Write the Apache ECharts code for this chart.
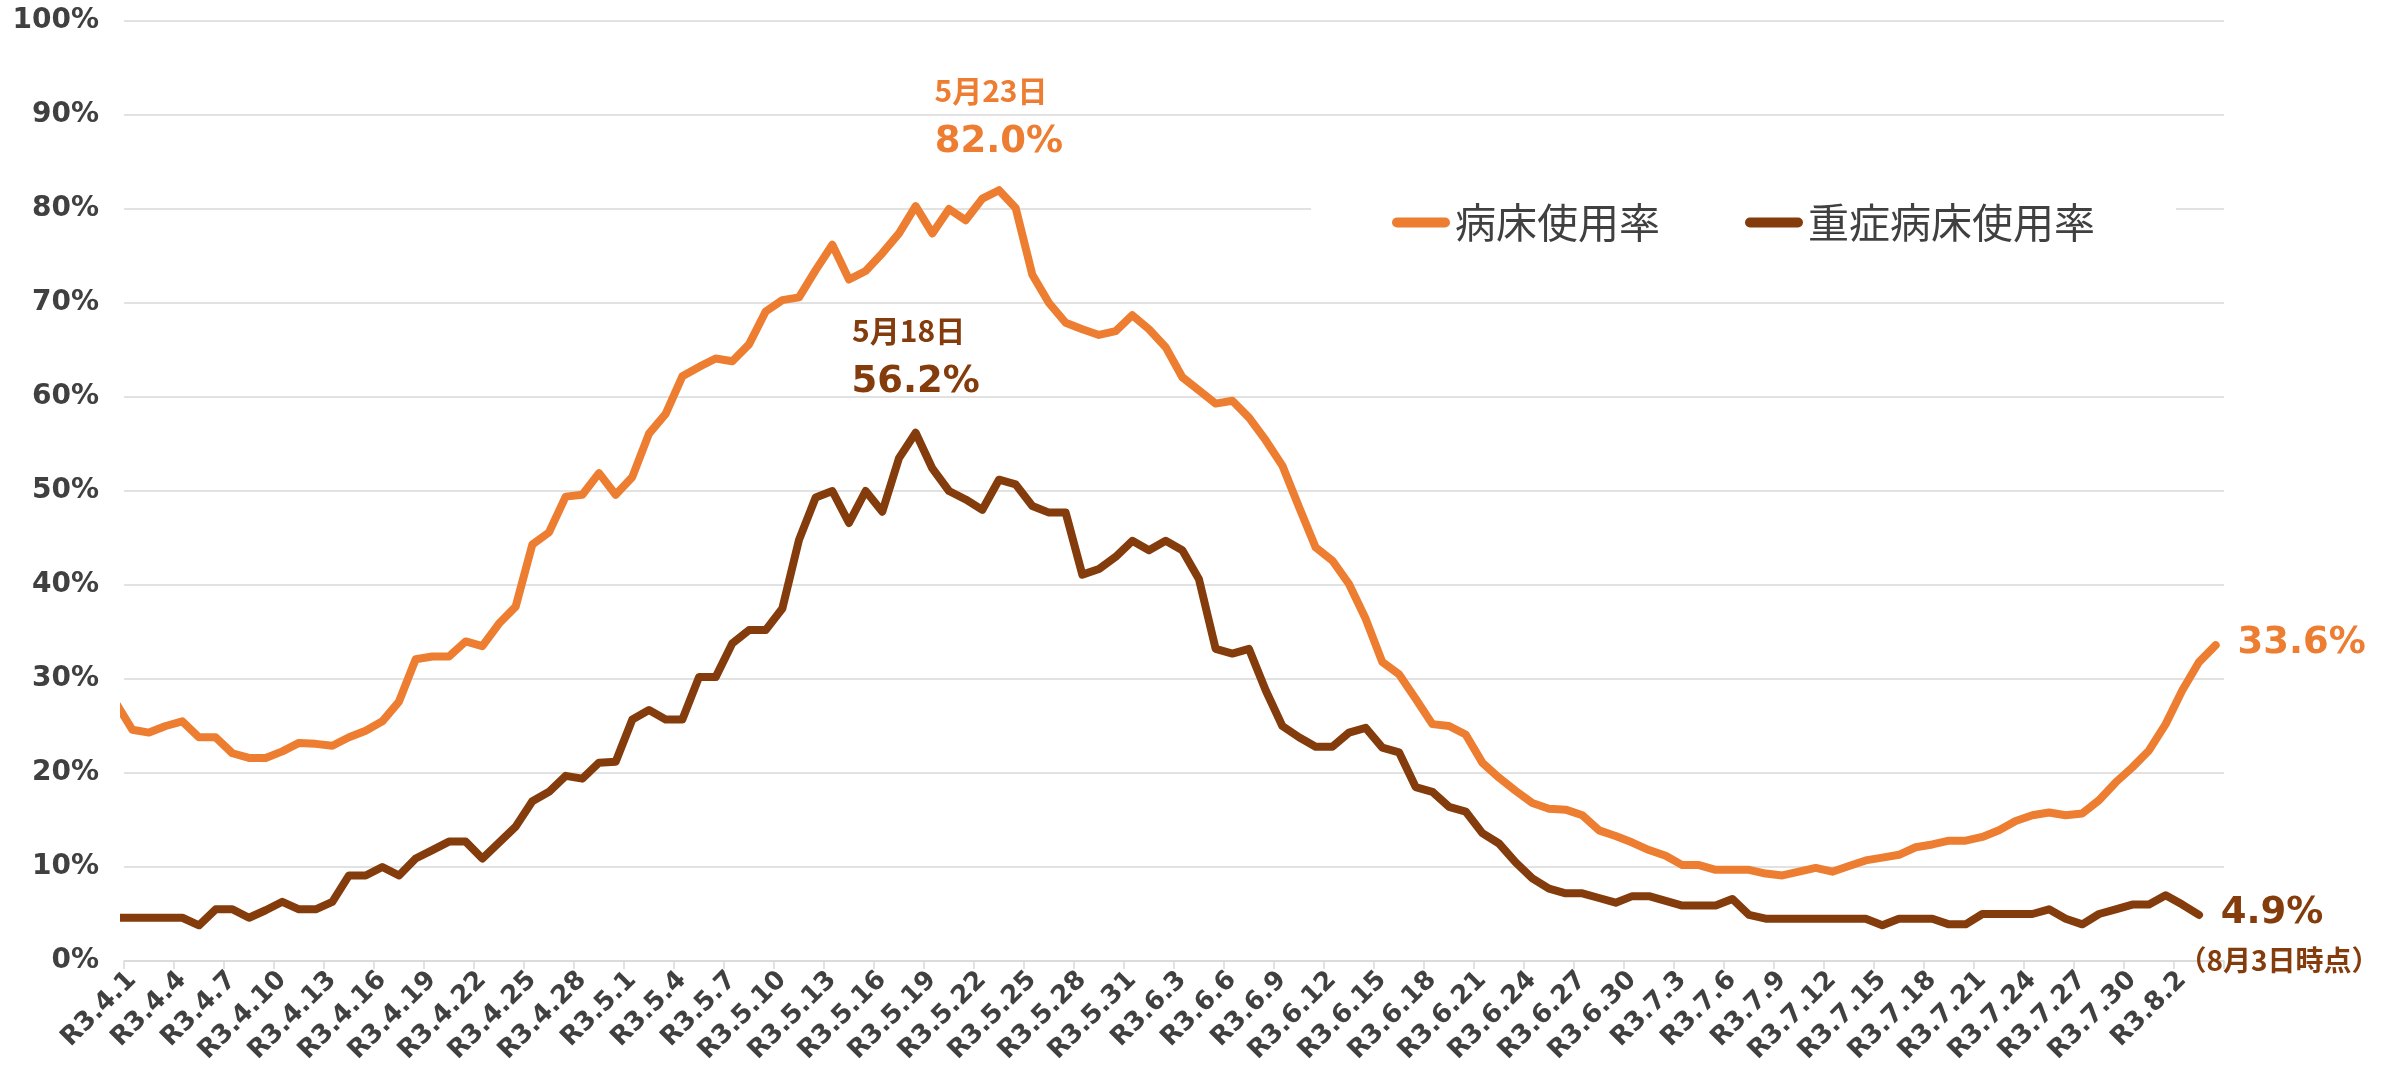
<!DOCTYPE html>
<html>
<head>
<meta charset="utf-8">
<script src="https://cdn.jsdelivr.net/npm/echarts@6/dist/echarts.min.js"></script>
<style>
html,body{margin:0;padding:0;background:#fff;}
#chart{width:2387px;height:1078px;}
</style>
</head>
<body>
<div id="chart"></div>
<script>
// Dates (index 0 = R3.3.31, lies just left of the plot and is clipped)
const categories = [
  'R3.3.31',
  'R3.4.1','R3.4.2','R3.4.3','R3.4.4','R3.4.5','R3.4.6','R3.4.7','R3.4.8','R3.4.9','R3.4.10',
  'R3.4.11','R3.4.12','R3.4.13','R3.4.14','R3.4.15','R3.4.16','R3.4.17','R3.4.18','R3.4.19','R3.4.20',
  'R3.4.21','R3.4.22','R3.4.23','R3.4.24','R3.4.25','R3.4.26','R3.4.27','R3.4.28','R3.4.29','R3.4.30',
  'R3.5.1','R3.5.2','R3.5.3','R3.5.4','R3.5.5','R3.5.6','R3.5.7','R3.5.8','R3.5.9','R3.5.10',
  'R3.5.11','R3.5.12','R3.5.13','R3.5.14','R3.5.15','R3.5.16','R3.5.17','R3.5.18','R3.5.19','R3.5.20',
  'R3.5.21','R3.5.22','R3.5.23','R3.5.24','R3.5.25','R3.5.26','R3.5.27','R3.5.28','R3.5.29','R3.5.30','R3.5.31',
  'R3.6.1','R3.6.2','R3.6.3','R3.6.4','R3.6.5','R3.6.6','R3.6.7','R3.6.8','R3.6.9','R3.6.10',
  'R3.6.11','R3.6.12','R3.6.13','R3.6.14','R3.6.15','R3.6.16','R3.6.17','R3.6.18','R3.6.19','R3.6.20',
  'R3.6.21','R3.6.22','R3.6.23','R3.6.24','R3.6.25','R3.6.26','R3.6.27','R3.6.28','R3.6.29','R3.6.30',
  'R3.7.1','R3.7.2','R3.7.3','R3.7.4','R3.7.5','R3.7.6','R3.7.7','R3.7.8','R3.7.9','R3.7.10',
  'R3.7.11','R3.7.12','R3.7.13','R3.7.14','R3.7.15','R3.7.16','R3.7.17','R3.7.18','R3.7.19','R3.7.20',
  'R3.7.21','R3.7.22','R3.7.23','R3.7.24','R3.7.25','R3.7.26','R3.7.27','R3.7.28','R3.7.29','R3.7.30','R3.7.31',
  'R3.8.1','R3.8.2','R3.8.3','R3.8.4'
];

// 病床使用率 (%)
const bedRate = [
  27.5,
  24.6,24.3,25.0,25.5,23.8,23.8,22.1,21.6,21.6,22.3,
  23.2,23.1,22.9,23.8,24.5,25.5,27.6,32.1,32.4,32.4,
  34.0,33.5,35.9,37.7,44.3,45.6,49.4,49.6,51.9,49.6,
  51.5,56.1,58.2,62.2,63.2,64.1,63.8,65.6,69.1,70.3,
  70.6,73.5,76.2,72.5,73.4,75.3,77.4,80.3,77.4,80.0,
  78.8,81.1,82.0,80.1,73.0,70.0,67.9,67.2,66.6,67.0,68.7,
  67.2,65.3,62.1,60.7,59.3,59.6,57.8,55.4,52.7,48.3,
  44.0,42.6,40.1,36.4,31.8,30.5,27.9,25.2,25.0,24.1,
  21.1,19.5,18.1,16.8,16.2,16.1,15.5,13.9,13.3,12.6,
  11.8,11.2,10.2,10.2,9.7,9.7,9.7,9.3,9.1,9.5,
  9.9,9.5,10.1,10.7,11.0,11.3,12.1,12.4,12.8,12.8,
  13.2,13.9,14.9,15.5,15.8,15.5,15.7,17.1,19.0,20.6,22.4,
  25.2,28.8,31.8,33.6
];

// 重症病床使用率 (%)
const severeRate = [
  4.6,
  4.6,4.6,4.6,4.6,3.8,5.5,5.5,4.6,5.4,6.3,
  5.5,5.5,6.3,9.1,9.1,10.0,9.1,10.9,11.8,12.7,
  12.7,10.9,12.6,14.3,17.0,18.0,19.7,19.4,21.1,21.2,
  25.7,26.7,25.7,25.7,30.2,30.2,33.8,35.2,35.2,37.5,
  44.8,49.3,50.0,46.6,50.0,47.8,53.5,56.2,52.4,50.0,
  49.1,48.0,51.2,50.7,48.4,47.7,47.7,41.1,41.7,43.0,44.7,
  43.7,44.7,43.7,40.6,33.2,32.7,33.2,28.8,25.0,23.8,
  22.8,22.8,24.3,24.8,22.7,22.2,18.5,18.0,16.4,15.9,
  13.6,12.5,10.5,8.8,7.7,7.2,7.2,6.7,6.2,6.9,
  6.9,6.4,5.9,5.9,5.9,6.6,4.9,4.5,4.5,4.5,
  4.5,4.5,4.5,4.5,3.8,4.5,4.5,4.5,3.9,
  3.9,5.0,5.0,5.0,5.0,5.5,4.5,3.9,5.0,5.5,6.0,
  6.0,7.0,6.0,4.9
];

const seriesNames = ['病床使用率', '重症病床使用率'];
const peakNotes = { bed: '5月23日', severe: '5月18日' };
const endNote = '（8月3日時点）';

const ORANGE = '#ED7D31';
const BROWN = '#843C0C';
const GRAY_TEXT = '#404040';
const GRID = '#d9d9d9';

function peakIndex(arr) {
  let m = 0;
  arr.forEach((v, i) => { if (v > arr[m]) m = i; });
  return m;
}
const bp = peakIndex(bedRate);
const sp = peakIndex(severeRate);
const bl = bedRate.length - 1;
const sl = severeRate.length - 1;

const numFont = 'DejaVu Sans';
const cjkFont = 'Noto Sans CJK JP';

function note(idx, arr, text, color, offset, size, font, weight) {
  return {
    coord: [categories[idx], arr[idx]],
    symbolSize: 0,
    label: {
      show: true, position: 'inside', formatter: text, offset: offset,
      color: color, fontSize: size, fontFamily: font, fontWeight: weight
    }
  };
}

const tickFilter = (i) => (i - 1) % 3 === 0;

const chart = echarts.init(document.getElementById('chart'), null, { renderer: 'canvas' });
chart.setOption({
  animation: false,
  backgroundColor: '#ffffff',
  grid: { left: 124, right: 163, top: 21, bottom: 117, containLabel: false },
  legend: {
    data: seriesNames,
    left: 1311, top: 185,
    padding: [17, 81],
    itemGap: 85,
    itemWidth: 58, itemHeight: 10,
    icon: 'path://M5,0 H53 A5,5 0 0 1 53,10 H5 A5,5 0 0 1 5,0 Z',
    backgroundColor: '#ffffff',
    textStyle: { fontSize: 41, color: GRAY_TEXT, fontFamily: cjkFont }
  },
  xAxis: {
    type: 'category',
    data: categories,
    min: 1,
    boundaryGap: true,
    axisLine: { show: true, lineStyle: { color: GRID, width: 1.5 } },
    axisTick: { show: true, interval: tickFilter, length: 8, lineStyle: { color: GRID, width: 1.5 } },
    axisLabel: {
      interval: tickFilter, rotate: 45, margin: 15,
      fontSize: 26, fontWeight: 'bold', fontFamily: numFont, color: GRAY_TEXT
    },
    splitLine: { show: false }
  },
  yAxis: {
    type: 'value', min: 0, max: 100, interval: 10,
    axisLine: { show: false }, axisTick: { show: false },
    axisLabel: { formatter: '{value}%', margin: 25, fontSize: 28, fontWeight: 'bold', fontFamily: numFont, color: GRAY_TEXT },
    splitLine: { show: true, lineStyle: { color: GRID, width: 1.5 } }
  },
  series: [
    {
      name: seriesNames[0], type: 'line', data: bedRate, showSymbol: false, symbol: 'none',
      clip: true, smooth: false,
      itemStyle: { color: ORANGE },
      lineStyle: { color: ORANGE, width: 8, join: 'round', cap: 'round' },
      z: 3,
      markPoint: {
        symbol: 'circle', silent: true, itemStyle: { color: 'rgba(0,0,0,0)' },
        data: [
          note(bp, bedRate, peakNotes.bed, ORANGE, [-8, -100], 30, cjkFont, 'bold'),
          note(bp, bedRate, bedRate[bp].toFixed(1) + '%', ORANGE, [0, -48], 37, numFont, 'bold'),
          note(bl, bedRate, bedRate[bl].toFixed(1) + '%', ORANGE, [86, -2], 37, numFont, 'bold')
        ]
      }
    },
    {
      name: seriesNames[1], type: 'line', data: severeRate, showSymbol: false, symbol: 'none',
      clip: true, smooth: false,
      itemStyle: { color: BROWN },
      lineStyle: { color: BROWN, width: 8, join: 'round', cap: 'round' },
      z: 4,
      markPoint: {
        symbol: 'circle', silent: true, itemStyle: { color: 'rgba(0,0,0,0)' },
        data: [
          note(sp, severeRate, peakNotes.severe, BROWN, [-7, -102], 30, cjkFont, 'bold'),
          note(sp, severeRate, severeRate[sp].toFixed(1) + '%', BROWN, [0, -50], 37, numFont, 'bold'),
          note(sl, severeRate, severeRate[sl].toFixed(1) + '%', BROWN, [73, -2], 37, numFont, 'bold'),
          note(sl, severeRate, endNote, BROWN, [80, 45], 28, cjkFont, 'bold')
        ]
      }
    }
  ]
});
</script>
</body>
</html>
